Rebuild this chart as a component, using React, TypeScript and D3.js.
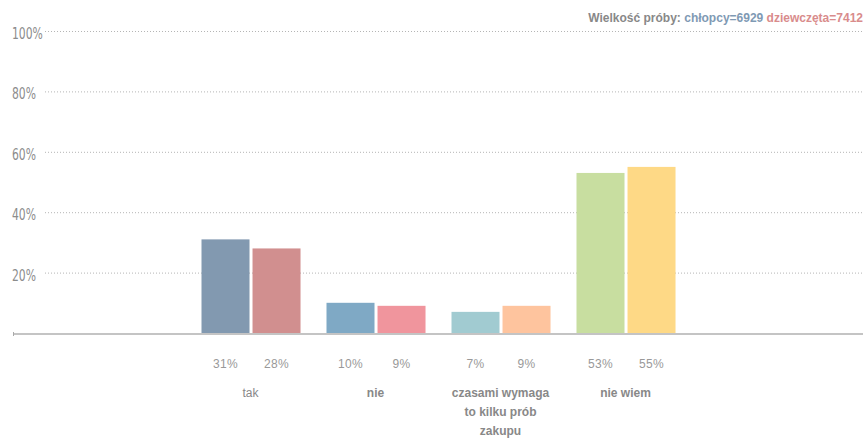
import React from "react";
import * as d3 from "d3";

const categories = ["tak", "nie", "czasami wymaga\nto kilku prób\nzakupu", "nie wiem"];
const boysValues = [31, 10, 7, 53];
const girlsValues = [28, 9, 9, 55];
const boysLabels = ["31%", "10%", "7%", "53%"];
const girlsLabels = ["28%", "9%", "9%", "55%"];
const boysColors = ["#8299b0", "#7fa9c5", "#a1cbd1", "#c8dea0"];
const girlsColors = ["#d18f8f", "#f0959d", "#fec49e", "#fed986"];
const boldCategory = [false, true, true, true];
const yTicks = [20, 40, 60, 80, 100];
const seriesKeys = ["boys", "girls"];

const W = 863;
const H = 441;

export default function App() {
  const x = d3.scaleBand<string>().domain(categories).range([13, 863]).paddingInner(0).paddingOuter(1.4);
  const x1 = d3.scaleBand<string>().domain(seriesKeys).range([13.5, 113.5]).paddingInner(0.04).paddingOuter(0);
  const y = d3.scaleLinear().domain([0, 100]).range([333, 31]);
  const bw = 48;

  return (
    <svg width={W} height={H} style={{ display: "block", background: "#fff", position: "fixed", left: 0, top: 0 }}>
      <text x={863} y={22} textAnchor="end" fontFamily="Liberation Sans, Arial, sans-serif" fontWeight="bold" fontSize={12}>
        <tspan fill="#888">Wielkość próby: </tspan>
        <tspan fill="#7f9ab4">chłopcy=6929 </tspan>
        <tspan fill="#d98c8c">dziewczęta=7412</tspan>
      </text>
      {yTicks.map((t) => (
        <g key={t}>
          <line x1={45} x2={863} y1={y(t) + 0.5} y2={y(t) + 0.5} stroke="#b5b5b5" strokeWidth={1} strokeDasharray="1,2" />
          <text x={12} y={y(t) + 8} fontFamily="'Liberation Sans Narrow', 'DejaVu Sans Condensed', sans-serif" fontSize={15} fill="#8c8c8c" transform={`translate(12,0) scale(0.8,1) translate(-12,0)`}>
            {t}%
          </text>
        </g>
      ))}
      <line x1={13} x2={863} y1={334} y2={334} stroke="#c4c4c4" strokeWidth={2} />
      <line x1={13.5} x2={13.5} y1={332} y2={336} stroke="#aaa" strokeWidth={1} />
      {categories.map((c, i) => {
        const bx = x(c)!;
        const items = [
          { k: "boys", v: boysValues[i], col: boysColors[i], lab: boysLabels[i] },
          { k: "girls", v: girlsValues[i], col: girlsColors[i], lab: girlsLabels[i] },
        ];
        const lines = c.split("\n");
        return (
          <g key={c}>
            {items.map((it) => (
              <g key={it.k}>
                <rect x={bx + x1(it.k)!} y={y(it.v)} width={bw} height={y(0) - y(it.v)} fill={it.col} />
                <text x={bx + x1(it.k)! + bw / 2} y={368} textAnchor="middle" fontFamily="Liberation Sans, Arial, sans-serif" fontSize={12} fill="#999" letterSpacing={0.3}>
                  {it.lab}
                </text>
              </g>
            ))}
            <text x={bx + x.bandwidth() / 2} y={397} textAnchor="middle" fontFamily="Liberation Sans, Arial, sans-serif" fontSize={12} fontWeight={boldCategory[i] ? "bold" : "normal"} fill="#888">
              {lines.map((l, j) => (
                <tspan key={j} x={bx + x.bandwidth() / 2} dy={j === 0 ? 0 : 19}>
                  {l}
                </tspan>
              ))}
            </text>
          </g>
        );
      })}
    </svg>
  );
}
